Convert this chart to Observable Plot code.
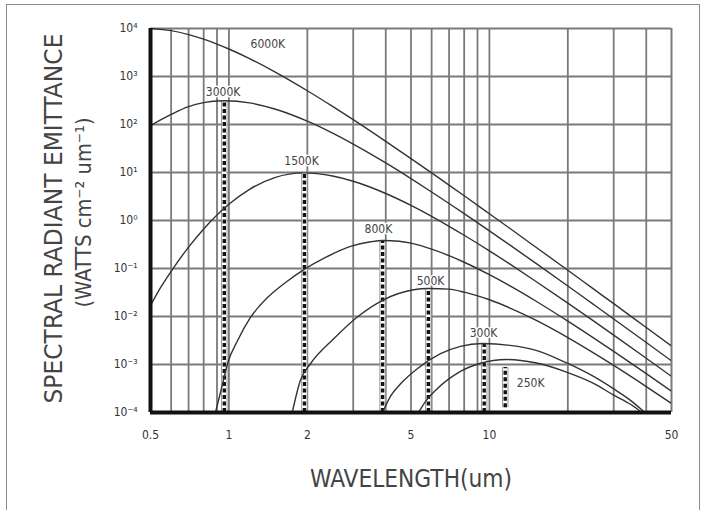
<!DOCTYPE html>
<html><head><meta charset="utf-8">
<script src="https://cdn.jsdelivr.net/npm/d3@7"></script>
<script src="https://cdn.jsdelivr.net/npm/@observablehq/plot@0.6"></script>
<style>
body{margin:0;background:#fff;}
#wrap{position:relative;width:704px;height:510px;overflow:hidden;background:#fff;}
#border{position:absolute;left:6px;top:4px;width:694px;height:530px;border:1.5px solid #8a8a8a;box-sizing:border-box;}
#wrap svg{position:absolute;left:0;top:0;}
</style></head><body><div id="wrap"><div id="border"></div></div>
<script>
// ---- data (wavelength in um, emittance in W cm^-2 um^-1)
const temps = ["6000K","3000K","1500K","800K","500K","300K","250K"];
const wl6000 = [0.5,0.6,0.7,0.8,0.9,1,1.2,1.5,2,2.5,3,4,5,6,7,8,10,12,15,20,25,30,40,50];
const m6000  = [9980,9010,7480,6000,4740,3740,2360,1250,505,238,126,44.5,19.5,9.79,5.45,3.27,1.38,0.68,0.284,0.0918,0.038,0.0185,0.0059,0.00244];
const wl3000 = [0.5,0.6,0.7,0.8,0.9,0.966,1.2,1.5,2,2.5,3,4,5,6,7,8,10,12,15,20,25,30,40,50];
const m3000  = [95,162,236,285,309,312,282,210,117,66,39,15.8,7.44,3.93,2.26,1.39,0.608,0.306,0.131,0.0432,0.0181,0.00888,0.00287,0.00119];
const wl1500 = [0.5,0.55,0.6,0.7,0.8,0.9,1.0,1.2,1.5,1.93,2.5,3,4,5,6,7,8,10,12,15,20,25,30,40,50];
const m1500  = [0.0169,0.0422,0.0871,0.279,0.668,1.30,2.18,4.47,7.83,9.8,8.44,6.56,3.65,2.06,1.22,0.758,0.493,0.233,0.123,0.055,0.019,0.0082,0.0041,0.00135,0.000566];
const wl800  = [0.888,0.946,0.988,1.08,1.21,1.41,1.69,1.92,2.35,2.93,3.5,3.89,4.5,5,6,7,8,10,12,15,20,25,30,40,50];
const m800   = [1e-4,4e-4,1.05e-3,3.16e-3,9.55e-3,0.0251,0.0562,0.0912,0.17,0.288,0.36,0.383,0.37,0.337,0.253,0.185,0.135,0.0742,0.0433,0.0213,0.00802,0.00364,0.00188,0.000644,0.000277];
const wl500  = [1.75,1.88,2.06,2.52,3.12,3.89,5.11,5.83,7,8,10,12,15,20,25,30,40,50];
const m500   = [1e-4,4.64e-4,1.05e-3,3.4e-3,9.9e-3,0.0218,0.036,0.0383,0.0371,0.0322,0.0223,0.015,0.00848,0.00364,0.00177,0.000957,0.000347,0.000154];
const wl300  = [3.89,4.18,4.56,5.3,6.49,7.74,9.41,12,15,20,25,30,35,39.5];
const m300   = [1e-4,2.21e-4,3.96e-4,8.26e-4,1.68e-3,2.39e-3,2.74e-3,2.5e-3,2.0e-3,1.05e-3,5.7e-4,3.1e-4,1.75e-4,1e-4];
const wl250  = [5.34,5.68,6.22,7.6,9.24,11.6,15,20,25,30,35,38.5];
const m250   = [1e-4,1.69e-4,2.92e-4,6.78e-4,1.06e-3,1.27e-3,1.085e-3,6.8e-4,4.1e-4,2.3e-4,1.45e-4,1e-4];

// peak markers (dashed verticals)
const peakWl     = [0.96, 1.95, 3.89, 5.83, 9.55, 11.5];
const peakTop    = [312, 9.77, 0.38, 0.038, 2.74e-3, 8.7e-4];
const peakBottom = [1e-4, 1e-4, 1e-4, 1e-4, 1e-4, 1.26e-4];

// curve labels
const labelX = [1.41, 0.95, 1.90, 3.75, 5.94, 9.49, 14.4];
const labelY = [4650, 464, 16.9, 0.65, 0.0537, 4.42e-3, 4.0e-4];

// grid and ticks
const xGrid  = [0.6,0.7,0.8,0.9,1,2,3,4,5,6,7,8,9,10,20,30,40];
const yGrid  = [1e-3,1e-2,1e-1,1,10,100,1000];
const xTicks = [0.5,1,2,5,10,50];
const yTicks = [1e-4,1e-3,1e-2,1e-1,1,10,100,1000,1e4];

const xTitle = "WAVELENGTH(um)";
const yTitle1 = "SPECTRAL RADIANT EMITTANCE";
const yTitle2 = "(WATTS cm\u207B\u00B2 um\u207B\u00B9)";

// ---- build table
const wls = [wl6000, wl3000, wl1500, wl800, wl500, wl300, wl250];
const ms  = [m6000, m3000, m1500, m800, m500, m300, m250];
const rows = temps.flatMap((t, k) => wls[k].map((w, i) => ({T: t, wl: w, m: ms[k][i]})));
const peaks = peakWl.map((w, i) => ({wl: w, top: peakTop[i], bottom: peakBottom[i]}));
const labels = temps.map((t, i) => ({t, x: labelX[i], y: labelY[i]}));

const sup = {"-":"\u207B","0":"\u2070","1":"\u00B9","2":"\u00B2","3":"\u00B3","4":"\u2074","5":"\u2075","6":"\u2076","7":"\u2077","8":"\u2078","9":"\u2079"};
const yFmt = d => "10" + String(Math.round(Math.log10(d))).split("").map(c => sup[c]).join("");

const font = "'DejaVu Sans Condensed','Liberation Sans Narrow','DejaVu Sans',sans-serif";
const grid = "#7a7a7a";

const chart = Plot.plot({
  width: 704, height: 510,
  marginLeft: 150, marginRight: 33, marginTop: 28, marginBottom: 98,
  style: {fontFamily: font, background: "transparent", color: "#333", fontSize: "12px"},
  x: {type: "log", domain: [0.5, 50], ticks: xTicks, tickFormat: d => String(d), tickSize: 0, tickPadding: 18, label: null},
  y: {type: "log", domain: [1e-4, 1e4], ticks: yTicks, tickFormat: yFmt, tickSize: 0, tickPadding: 13, label: null},
  marks: [
    Plot.ruleX(xGrid, {stroke: grid, strokeWidth: 1.8}),
    Plot.ruleY(yGrid, {stroke: grid, strokeWidth: 1.8}),
    Plot.ruleY([1e4], {stroke: grid, strokeWidth: 2}),
    Plot.ruleX([50], {stroke: grid, strokeWidth: 2}),
    Plot.ruleX(peaks, {x: "wl", y1: "bottom", y2: "top", stroke: "#999", strokeWidth: 6.5}),
    Plot.ruleX(peaks, {x: "wl", y1: "bottom", y2: "top", stroke: "#fff", strokeWidth: 4.5}),
    Plot.ruleX(peaks, {x: "wl", y1: "bottom", y2: "top", stroke: "#111", strokeWidth: 3.4, strokeDasharray: "4,2.5"}),
    Plot.line(rows, {x: "wl", y: "m", z: "T", stroke: "#333", strokeWidth: 1.4, curve: "monotone-x", clip: true}),
    Plot.text(labels, {x: "x", y: "y", text: "t", fontSize: 12, fill: "#444", stroke: "#fff", strokeWidth: 3}),
    Plot.ruleX([0.5], {stroke: "#111", strokeWidth: 4}),
    Plot.ruleY([1e-4], {stroke: "#111", strokeWidth: 4}),
    Plot.text([yTitle1], {frameAnchor: "left", dx: -97, dy: 183, rotate: -90, textAnchor: "start", fontSize: 25, fill: "#444"}),
    Plot.text([yTitle2], {frameAnchor: "left", dx: -66, dy: 87, rotate: -90, textAnchor: "start", fontSize: 21, fill: "#444"}),
    Plot.text([xTitle], {frameAnchor: "bottom", dy: 74, fontSize: 24, fill: "#444"})
  ]
});
// condense the hand-lettered titles to the reference's lengths
const fit = {[yTitle1]: 370, [yTitle2]: 190, [xTitle]: 202};
d3.select(chart).selectAll("text").each(function() {
  const len = fit[this.textContent];
  if (len) d3.select(this).attr("textLength", len).attr("lengthAdjust", "spacingAndGlyphs");
});
document.getElementById("wrap").appendChild(chart);
</script></body></html>
